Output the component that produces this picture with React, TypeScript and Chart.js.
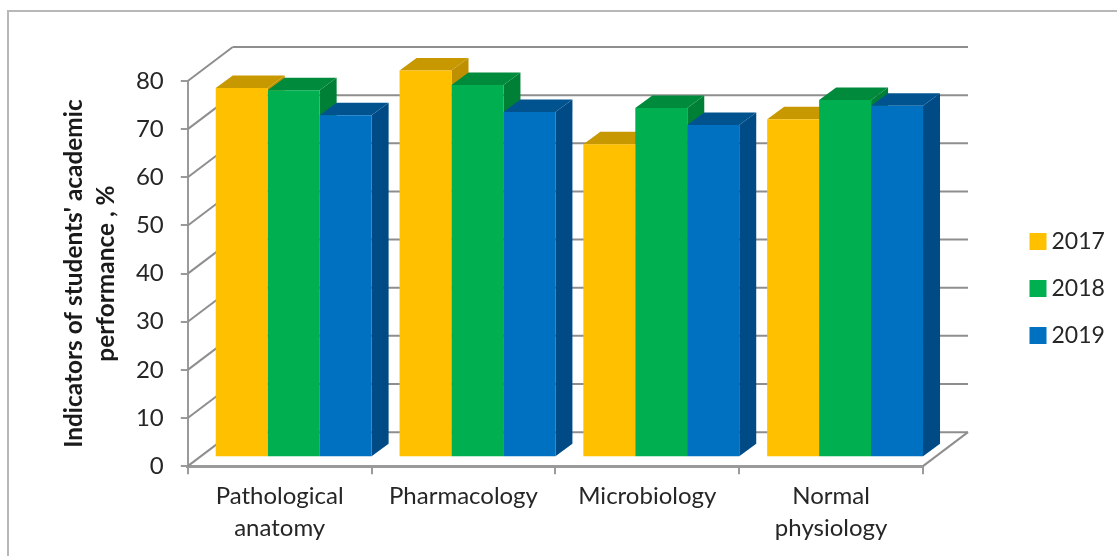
import React, { useEffect, useRef } from "react";
import { Chart, registerables } from "chart.js";

Chart.register(...registerables);

const categories = [["Pathological", "anatomy"], "Pharmacology", "Microbiology", ["Normal", "physiology"]];
const years = ["2017", "2018", "2019"];
const values2017 = [76.7, 80.3, 65, 70.2];
const values2018 = [76.2, 77.3, 72.5, 74.2];
const values2019 = [71, 71.7, 69, 73];
const frontColors = ["#FFC000", "#00B050", "#0070C0"];
const topColors = ["#C79800", "#008A3C", "#00538F"];
const sideColors = ["#BE9000", "#007F36", "#004A85"];
const yTicks = [0, 10, 20, 30, 40, 50, 60, 70, 80];
const FONT = "Lato, sans-serif";
const TEXT = "#262626";
const WALL_DX = 45;
const WALL_DY = -34;
const BAR_SHIFT_X = 14;
const BAR_SHIFT_Y = -9;
const DEPTH_X = 17;
const DEPTH_Y = -12.5;

const line = (ctx: CanvasRenderingContext2D, x1: number, y1: number, x2: number, y2: number) => {
  ctx.beginPath();
  ctx.moveTo(x1, y1);
  ctx.lineTo(x2, y2);
  ctx.stroke();
};

const poly = (ctx: CanvasRenderingContext2D, pts: number[][], fill: string) => {
  ctx.fillStyle = fill;
  ctx.beginPath();
  pts.forEach((p, i) => (i ? ctx.lineTo(p[0], p[1]) : ctx.moveTo(p[0], p[1])));
  ctx.closePath();
  ctx.fill();
};

const bars3d = {
  id: "bars3d",
  afterLayout(chart: any) {
    const l = chart.legend;
    const w = l.width;
    const h = l.height;
    l.left = 1012;
    l.top = 206;
    l.right = l.left + w;
    l.bottom = l.top + h;
  },
  beforeDatasetsDraw(chart: any) {
    const { ctx, chartArea, scales } = chart;
    const { left, right, bottom } = chartArea;
    ctx.save();
    ctx.strokeStyle = "#8E8E8E";
    ctx.lineWidth = 2;
    yTicks.forEach((v) => {
      const y = scales.y.getPixelForValue(v);
      line(ctx, left, y, left + WALL_DX, y + WALL_DY);
      line(ctx, left + WALL_DX, y + WALL_DY, right + WALL_DX, y + WALL_DY);
    });
    line(ctx, right, bottom, right + WALL_DX, bottom + WALL_DY);

    ctx.translate(BAR_SHIFT_X, BAR_SHIFT_Y);
    categories.forEach((_, c) => {
      chart.data.datasets.forEach((_d: any, s: number) => {
        const b = chart.getDatasetMeta(s).data[c];
        const x1 = b.x - b.width / 2;
        const x2 = b.x + b.width / 2;
        poly(ctx, [[x2, b.y], [x2 + DEPTH_X, b.y + DEPTH_Y], [x2 + DEPTH_X, b.base + DEPTH_Y], [x2, b.base]], sideColors[s]);
        poly(ctx, [[x1, b.y], [x1 + DEPTH_X, b.y + DEPTH_Y], [x2 + DEPTH_X, b.y + DEPTH_Y], [x2, b.y]], topColors[s]);
      });
    });
  },
  afterDatasetsDraw(chart: any) {
    chart.ctx.restore();
  },
};

export default function App() {
  const ref = useRef<HTMLCanvasElement>(null);
  useEffect(() => {
    const chart = new Chart(ref.current!, {
      type: "bar",
      data: {
        labels: categories as any,
        datasets: [values2017, values2018, values2019].map((data, i) => ({
          label: years[i],
          data,
          backgroundColor: frontColors[i],
          borderWidth: 0,
          categoryPercentage: 0.848,
          barPercentage: 1,
          clip: false as any,
        })),
      },
      options: {
        animation: false,
        responsive: false,
        layout: { padding: { left: 58, right: 194, top: 81, bottom: 6 } },
        plugins: {
          title: { display: false },
          tooltip: { enabled: false },
          legend: {
            position: "chartArea" as any,
            align: "start",
            labels: {
              usePointStyle: true,
              pointStyle: "rect",
              boxWidth: 4,
              boxHeight: 17,
              padding: 24,
              color: TEXT,
              font: { family: FONT, size: 23 },
            },
          },
        },
        scales: {
          x: {
            grid: { drawOnChartArea: false, color: "#9A9A9A", lineWidth: 2, tickLength: 8 },
            border: { color: "#9A9A9A", width: 3 },
            ticks: {
              color: TEXT,
              font: { family: FONT, size: 24, lineHeight: 1.33 },
              padding: 6,
              maxRotation: 0,
              autoSkip: false,
            },
          },
          y: {
            min: 0,
            max: 80,
            afterFit: (scale: any) => {
              scale.width -= 3;
            },
            grid: { drawOnChartArea: false, color: "#9A9A9A", lineWidth: 2, tickLength: 7 },
            border: { color: "#9A9A9A", width: 2 },
            ticks: { stepSize: 10, color: TEXT, font: { family: FONT, size: 24 }, padding: 17 },
            title: {
              display: true,
              text: ["Indicators of students' academic", "performance , %"],
              color: "#1A1A1A",
              font: { family: FONT, size: 24.4, weight: "bold", lineHeight: 1.31 },
              padding: 0,
            },
          },
        },
      },
      plugins: [bars3d],
    });
    return () => chart.destroy();
  }, []);
  return (
    <div style={{ position: "fixed", left: 0, top: 0, width: 1117, height: 556, overflow: "hidden", background: "#fff" }}>
      <div style={{ position: "absolute", left: 7, top: 10, width: 1300, height: 800, border: "2px solid #B8B8B8" }} />
      <canvas ref={ref} width={1117} height={556} style={{ position: "absolute", left: 0, top: 0 }} />
    </div>
  );
}
